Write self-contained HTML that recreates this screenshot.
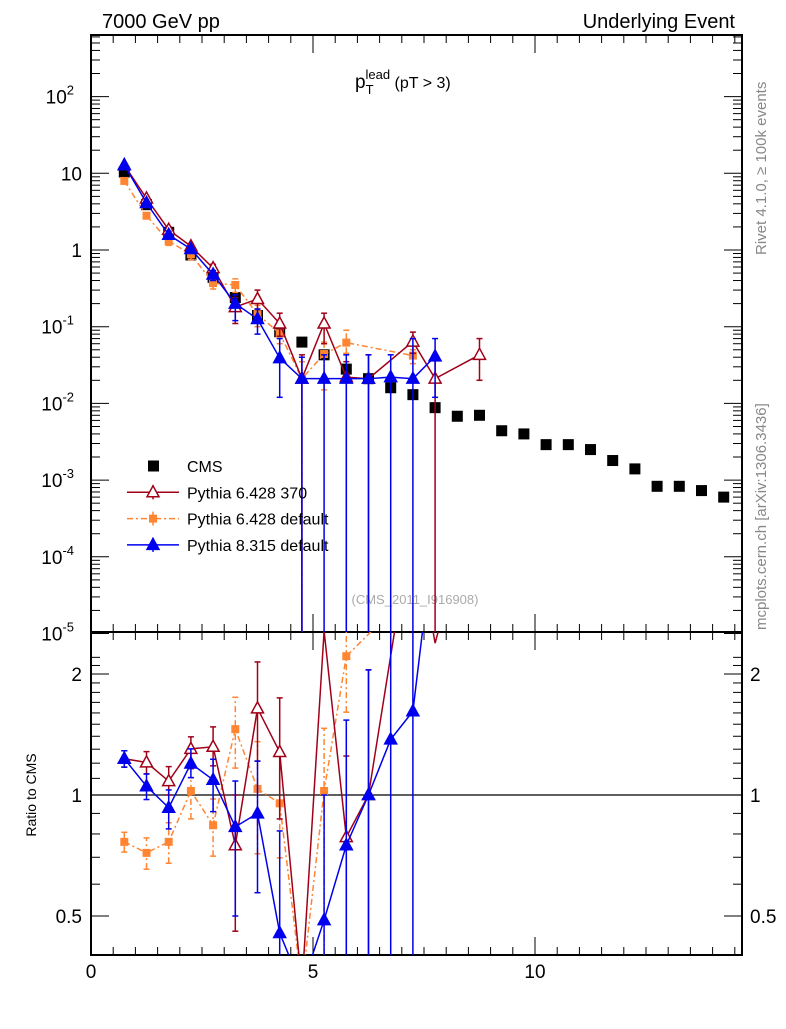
<!DOCTYPE html>
<html><head><meta charset="utf-8"><style>
body{margin:0;background:#fff;width:786px;height:1024px;overflow:hidden;font-family:"Liberation Sans",sans-serif}
svg text{font-family:"Liberation Sans",sans-serif}
</style></head><body>
<svg id="chart" width="786" height="1024" xmlns="http://www.w3.org/2000/svg">
<text x="102" y="28" font-size="20">7000 GeV pp</text>
<text x="735" y="28" font-size="20" text-anchor="end">Underlying Event</text>
<text x="355" y="88" font-size="19">p<tspan dy="6" font-size="13">T</tspan><tspan dx="-8" dy="-15" font-size="13">lead</tspan><tspan dy="9" font-size="16"> (pT &gt;  3)</tspan></text>
<text transform="translate(766,255) rotate(-90)" font-size="15" fill="#888">Rivet 4.1.0, ≥ 100k events</text>
<text transform="translate(766,630) rotate(-90)" font-size="15" fill="#888">mcplots.cern.ch [arXiv:1306.3436]</text>
<text x="415" y="604" font-size="13" fill="#aaa" text-anchor="middle">(CMS_2011_I916908)</text>
<text transform="translate(36,795) rotate(-90)" font-size="14" text-anchor="middle">Ratio to CMS</text>
<g id="plot"></g>
</svg>
<script>
const xs = [0.75,1.25,1.75,2.25,2.75,3.25,3.75,4.25,4.75,5.25,5.75,6.25,6.75,7.25,7.75,8.25,8.75,9.25,9.75,10.25,10.75,11.25,11.75,12.25,12.75,13.25,13.75,14.25];
const cmsVals = [10.4,3.9,1.7,0.86,0.44,0.24,0.14,0.086,0.063,0.043,0.028,0.021,0.016,0.013,0.0088,0.0068,0.0070,0.0044,0.0040,0.0029,0.0029,0.0025,0.0018,0.0014,0.00083,0.00083,0.00073,0.00060];
const redX = [0.75,1.25,1.75,2.25,2.75,3.25,3.75,4.25,4.75,5.25,5.75,6.25,7.25,7.75,8.75];
const redVals = [12.8,4.7,1.84,1.12,0.58,0.18,0.23,0.11,0.021,0.11,0.022,0.021,0.064,0.021,0.043];
const redLo = [12.2,4.4,1.7,1.0,0.52,0.11,0.17,0.075,0,0.06,0,0,0.045,0,0.02];
const redHi = [13.4,5.0,2.0,1.2,0.65,0.24,0.30,0.15,0.043,0.15,0.035,0.043,0.085,0.043,0.07];
const orgX = [0.75,1.25,1.75,2.25,2.75,3.25,3.75,4.25,4.75,5.25,5.75,7.25];
const orgVals = [7.95,2.8,1.3,0.88,0.37,0.35,0.145,0.082,0.021,0.044,0.062,0.042];
const orgLo = [7.5,2.55,1.15,0.75,0.31,0.28,0.10,0.06,0,0.015,0.045,0.033];
const orgHi = [8.4,3.05,1.45,0.95,0.43,0.42,0.19,0.11,0.035,0.063,0.09,0.05];
const bluX = [0.75,1.25,1.75,2.25,2.75,3.25,3.75,4.25,4.75,5.25,5.75,6.25,6.75,7.25,7.75];
const bluVals = [12.8,4.1,1.58,1.03,0.48,0.2,0.126,0.039,0.021,0.021,0.021,0.021,0.022,0.021,0.041];
const bluLo = [12.2,3.8,1.4,0.95,0.4,0.12,0.08,0.012,0,0,0,0,0,0,0.012];
const bluHi = [13.4,4.4,1.75,1.12,0.54,0.26,0.17,0.07,0.04,0.043,0.043,0.043,0.043,0.07,0.07];
const xTicks = [0,5,10];
const mainTickExp = [-5,-4,-3,-2,-1,0,1,2];
const ratioTicks = [0.5,1,2];

const L=91,R=742,T=35,MB=632,RB=955;
const X=v=>L+v*44.4;
const Y=v=>250-76.7*Math.log10(v);
const RY=r=>795-402*Math.log10(r);
const NS="http://www.w3.org/2000/svg";
const g=document.getElementById('plot');
function el(t,a,p){const e=document.createElementNS(NS,t);for(const k in a)e.setAttribute(k,a[k]);(p||g).appendChild(e);return e;}
function clampM(y){return Math.max(T,Math.min(MB,y));}
function clampR(y){return Math.max(MB,Math.min(RB,y));}

const f1=el('rect',{x:L,y:T,width:R-L,height:MB-T,fill:'none',stroke:'#000','stroke-width':2});


const f2=el('rect',{x:L,y:MB,width:R-L,height:RB-MB,fill:'none',stroke:'#000','stroke-width':2});



for(let v=0;v<=14.6;v+=0.5){const maj=Math.abs(v%5)<1e-6;const len=maj?18:8;const px=X(v);
 [[T,1],[MB,-1],[MB,1],[RB,-1]].forEach(([y0,d])=>el('line',{x1:px,x2:px,y1:y0,y2:y0+d*len,stroke:'#000','stroke-width':1}));}
xTicks.forEach(v=>{const t=el('text',{x:X(v),y:978,'font-size':19,'text-anchor':'middle'});t.textContent=v;
 
 });

for(let e=-5;e<=2;e++){for(let m=1;m<10;m++){const v=m*Math.pow(10,e);const y=Y(v);if(y<T)break;const len=m==1?18:9;
 el('line',{x1:L,x2:L+len,y1:y,y2:y,stroke:'#000'});el('line',{x1:R,x2:R-len,y1:y,y2:y,stroke:'#000'});}}
mainTickExp.forEach(e=>{const y=Y(Math.pow(10,e))+7;const t=el('text',{x:82,y:y,'font-size':19,'text-anchor':'end'});
 if(e==0)t.textContent='1';else if(e==1)t.textContent='10';else{t.textContent='10';const s=el('tspan',{dy:-9,'font-size':13},t);s.textContent=String(e);t.setAttribute('x',74);}
 
 });

for(let r=0.4;r<=2.3;r+=0.1){const y=RY(r);if(y<MB||y>RB)continue;const maj=[0.5,1,2].some(q=>Math.abs(q-r)<1e-6);const len=maj?18:9;
 el('line',{x1:L,x2:L+len,y1:y,y2:y,stroke:'#000'});el('line',{x1:R,x2:R-len,y1:y,y2:y,stroke:'#000'});}
ratioTicks.forEach(r=>{[[82,'end'],[750,'start']].forEach(([x,a])=>{const t=el('text',{x:x,y:RY(r)+7,'font-size':19,'text-anchor':a});t.textContent=r;
 
 });});
el('line',{x1:L,x2:R,y1:RY(1),y2:RY(1),stroke:'#000','stroke-width':1.2});

xs.forEach((x,i)=>{const r=el('rect',{x:X(x)-5.5,y:Y(cmsVals[i])-5.5,width:11,height:11,fill:'#000'});
 
 });
function cmsAt(x){return cmsVals[xs.findIndex(v=>Math.abs(v-x)<1e-6)];}

function marker(type,color,cx,cy,name){let m;
 if(type=='sq')m=el('rect',{x:cx-4,y:cy-4,width:8,height:8,fill:color});
 else m=el('polygon',{points:`${cx},${cy-6.5} ${cx-6},${cy+4.5} ${cx+6},${cy+4.5}`,fill:type=='tri'?color:'#fff',stroke:color,'stroke-width':1.5});
 
 return m;}

function series(xa,va,lo,hi,color,type,dash,name){
 const pts=xa.map((x,i)=>`${X(x)},${clampM(Y(va[i]))}`).join(' ');
 const pl=el('polyline',{points:pts,fill:'none',stroke:color,'stroke-width':1.5,'stroke-dasharray':dash});
 
 
 xa.forEach((x,i)=>{const px=X(x);const y1=lo[i]>0?clampM(Y(lo[i])):MB,y2=clampM(Y(hi[i]));
  el('line',{x1:px,x2:px,y1:y1,y2:y2,stroke:color,'stroke-width':1.5,'stroke-dasharray':dash});
  if(lo[i]>0)el('line',{x1:px-3,x2:px+3,y1:y1,y2:y1,stroke:color,'stroke-width':1.5});
  el('line',{x1:px-3,x2:px+3,y1:y2,y2:y2,stroke:color,'stroke-width':1.5});
  marker(type,color,px,Y(va[i]),name+'-point');});
 const rp=xa.map((x,i)=>`${X(x)},${RY(va[i]/cmsAt(x))}`).join(' ');
 const cp=el('clipPath',{id:'c'+name});el('rect',{x:L,y:MB,width:R-L,height:RB-MB},cp);
 const rg=el('g',{'clip-path':`url(#c${name})`});
 const rl=el('polyline',{points:rp,fill:'none',stroke:color,'stroke-width':1.5,'stroke-dasharray':dash},rg);
 
 
 xa.forEach((x,i)=>{const c=cmsAt(x);const px=X(x);const y1=lo[i]>0?clampR(RY(lo[i]/c)):RB,y2=clampR(RY(hi[i]/c));
  const ry=RY(va[i]/c);if(ry<MB+14||ry>RB-4)return;
  el('line',{x1:px,x2:px,y1:y1,y2:y2,stroke:color,'stroke-width':1.5,'stroke-dasharray':dash},rg);
  if(y1<RB)el('line',{x1:px-3,x2:px+3,y1:y1,y2:y1,stroke:color,'stroke-width':1.5},rg);
  if(y2>MB)el('line',{x1:px-3,x2:px+3,y1:y2,y2:y2,stroke:color,'stroke-width':1.5},rg);
  const m=marker(type,color,px,ry,name+'-ratio-point');rg.appendChild(m);});
}
series(orgX,orgVals,orgLo,orgHi,'#ff8533','sq','6,3,2,3','pythia6-default');
series(redX,redVals,redLo,redHi,'#a00018','otri','','pythia6-370');
series(bluX,bluVals,bluLo,bluHi,'#0000ee','tri','','pythia8-default');

const leg=[['CMS','#000','cms',''],['Pythia 6.428 370','#a00018','otri',''],['Pythia 6.428 default','#ff8533','sq','6,3,2,3'],['Pythia 8.315 default','#0000ee','tri','']];
leg.forEach((d,i)=>{const y=466+i*26.3;const lg=el('g',{});
 
 
 if(d[2]=='cms'){el('rect',{x:148,y:y-5.5,width:11,height:11,fill:'#000'},lg);}
 else{el('line',{x1:127,x2:179,y1:y,y2:y,stroke:d[1],'stroke-width':1.5,'stroke-dasharray':d[3]},lg);
  el('line',{x1:153,x2:153,y1:y-7,y2:y+7,stroke:d[1],'stroke-width':1.5},lg);
  lg.appendChild(marker(d[2],d[1],153,y,'legend-marker'));}
 const t=el('text',{x:187,y:y+6,'font-size':16},lg);t.textContent=d[0];});
</script>
</body></html>
